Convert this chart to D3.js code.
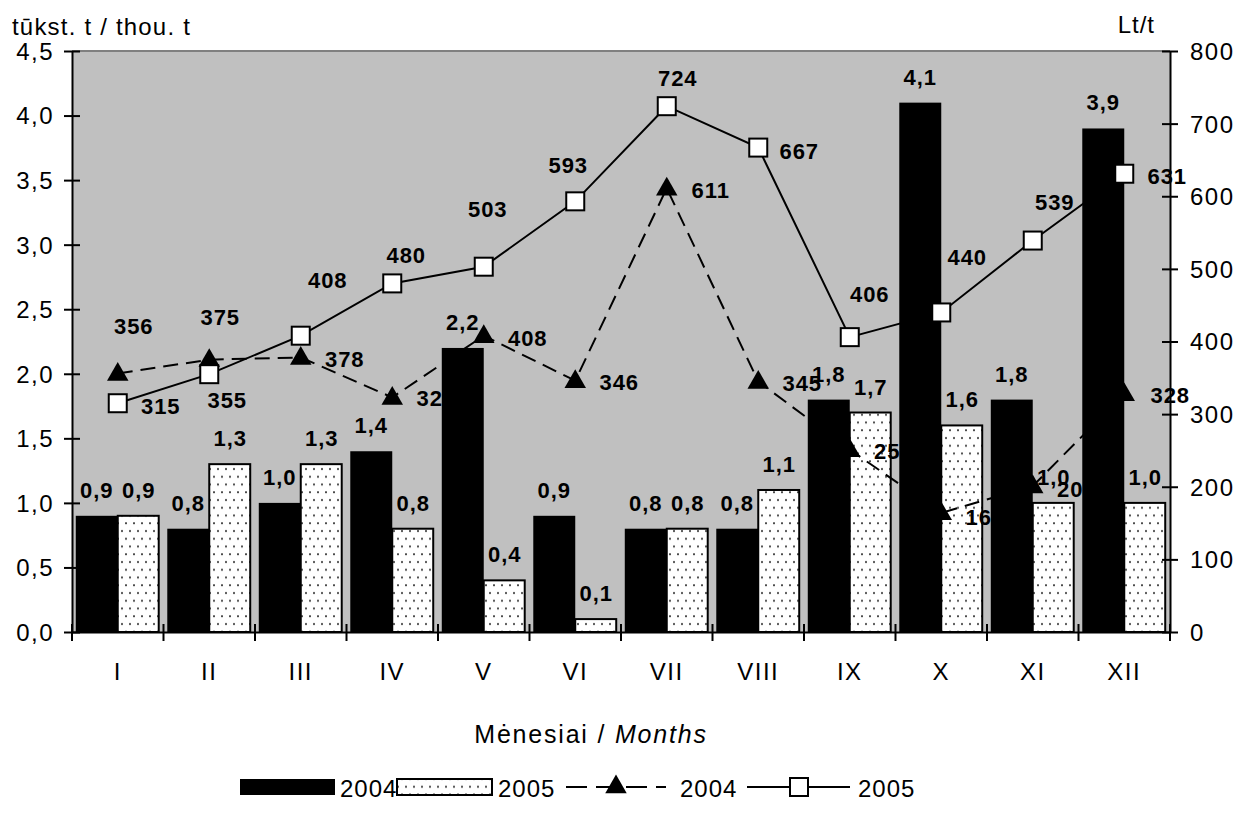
<!DOCTYPE html>
<html><head><meta charset="utf-8">
<script src="https://cdn.jsdelivr.net/npm/d3@7"></script>
<style>
body{margin:0;background:#fff;}
svg text{font-family:"Liberation Sans",Arial,sans-serif;}
</style></head>
<body><svg id="c" width="1236" height="816"></svg>
<script>
// ---- data ----
const months = ["I","II","III","IV","V","VI","VII","VIII","IX","X","XI","XII"];
const qty2004 = [0.9,0.8,1.0,1.4,2.2,0.9,0.8,0.8,1.8,4.1,1.8,3.9];
const qty2005 = [0.9,1.3,1.3,0.8,0.4,0.1,0.8,1.1,1.7,1.6,1.0,1.0];
const price2004 = [356,375,378,323,408,346,611,345,251,164,201,328];
const price2005 = [315,355,408,480,503,593,724,667,406,440,539,631];
const leftTicks = [0,0.5,1,1.5,2,2.5,3,3.5,4,4.5];
const rightTicks = [0,100,200,300,400,500,600,700,800];
// label nudges (label centre relative to marker), layout only
const triLabelNudge = [[16,-47],[11,-43],[44,2],[44,1],[44,2],[44,1],[44,2],[44,2],[44,1],[44,4],[44,3],[46,1]];
const sqLabelNudge = [[43,3],[18,26],[27,-56],[14,-28],[4,-58],[-7,-36],[11,-28],[41,3],[20,-43],[26,-55],[22,-39],[43,2]];

const svg = d3.select("#c");
const L=72, R=1170, T=51, B=632;
const FS = 24;
const fmt1 = d => d.toFixed(1).replace(".",",");

const x = d3.scaleBand().domain(months).range([L,R]).padding(0);
const xs = d3.scaleBand().domain(["2004","2005"]).range([0,x.bandwidth()]).paddingInner(0).paddingOuter(0.09);
const yL = d3.scaleLinear().domain([0,4.5]).range([B,T]);
const yR = d3.scaleLinear().domain([0,800]).range([B,T]);
const cx = m => x(m)+x.bandwidth()/2;

// pattern
const defs = svg.append("defs");
const pat = defs.append("pattern").attr("id","dots").attr("patternUnits","userSpaceOnUse")
  .attr("width",8).attr("height",15.5);
pat.append("rect").attr("width",8).attr("height",15.5).attr("fill","#fff");
pat.append("circle").attr("cx",2).attr("cy",4).attr("r",1).attr("fill","#333");
pat.append("circle").attr("cx",6).attr("cy",11.75).attr("r",1).attr("fill","#333");

// plot background
svg.append("rect").attr("x",L).attr("y",T).attr("width",R-L).attr("height",B-T).attr("fill","#c0c0c0");
svg.append("line").attr("x1",L).attr("x2",R).attr("y1",T).attr("y2",T).attr("stroke","#808080").attr("stroke-width",2);

// bars
const bw = xs.bandwidth();
svg.append("g").selectAll("rect").data(qty2004).join("rect")
  .attr("x",(d,i)=>x(months[i])+xs("2004")).attr("y",d=>yL(d))
  .attr("width",bw).attr("height",d=>B-yL(d)).attr("fill","#000");
svg.append("g").selectAll("rect").data(qty2005).join("rect")
  .attr("x",(d,i)=>x(months[i])+xs("2005")).attr("y",d=>yL(d))
  .attr("width",bw-1).attr("height",d=>B-yL(d)).attr("fill","url(#dots)")
  .attr("stroke","#000").attr("stroke-width",2);

// axes
const gl = svg.append("g").attr("transform",`translate(${L},0)`)
  .call(d3.axisLeft(yL).tickValues(leftTicks).tickFormat(fmt1).tickSize(8).tickPadding(10).tickSizeOuter(0));
gl.selectAll(".tick line").attr("x1",8).attr("x2",-8);
const gr = svg.append("g").attr("transform",`translate(${R},0)`)
  .call(d3.axisRight(yR).tickValues(rightTicks).tickSize(8).tickPadding(12).tickSizeOuter(0));
gr.selectAll(".tick line").attr("x1",-8).attr("x2",8);
const gb = svg.append("g").attr("transform",`translate(0,${B})`)
  .call(d3.axisBottom(x).tickSize(0).tickPadding(31).tickSizeOuter(0));
gb.selectAll(".tick line").remove();
[gl,gr,gb].forEach(g=>{
  g.select(".domain").attr("stroke","#000").attr("stroke-width",2);
  g.selectAll(".tick line").attr("stroke","#000").attr("stroke-width",2);
  g.selectAll("text").attr("font-size",FS).attr("fill","#000").attr("letter-spacing",1.5)
   .attr("font-family",'"Liberation Sans",Arial,sans-serif');
});
gl.selectAll("text").attr("dy","0.35em");
gr.selectAll("text").attr("dy","0.35em");
// category boundary ticks
const edges = months.map(m=>x(m)).concat([x.range()[1]]);
svg.append("g").selectAll("line").data(edges).join("line")
  .attr("x1",d=>d).attr("x2",d=>d).attr("y1",B-8).attr("y2",B+9)
  .attr("stroke","#000").attr("stroke-width",2);

// lines
const lineGen = d3.line().x((d,i)=>cx(months[i])).y(d=>yR(d));
svg.append("path").datum(price2004).attr("d",lineGen).attr("fill","none")
  .attr("stroke","#000").attr("stroke-width",2).attr("stroke-dasharray","15,8");
svg.append("path").datum(price2005).attr("d",lineGen).attr("fill","none")
  .attr("stroke","#000").attr("stroke-width",2);
const tri = d3.symbol().type(d3.symbolTriangle).size(200);
svg.append("g").selectAll("path").data(price2004).join("path")
  .attr("d",tri).attr("transform",(d,i)=>`translate(${cx(months[i])},${yR(d)+1})`).attr("fill","#000");
svg.append("g").selectAll("rect").data(price2005).join("rect")
  .attr("x",(d,i)=>cx(months[i])-9).attr("y",d=>yR(d)-9).attr("width",18).attr("height",18)
  .attr("fill","#fff").attr("stroke","#000").attr("stroke-width",2);

// data labels
function lab(g,txt,xx,yy){
  g.append("text").attr("x",xx).attr("y",yy+8).attr("text-anchor","middle")
   .attr("font-size",22).attr("font-weight","bold").attr("letter-spacing",1).attr("fill","#000").text(txt);
}
const gLab = svg.append("g");
qty2004.forEach((d,i)=>lab(gLab,fmt1(d),x(months[i])+xs("2004")+bw/2,yL(d)-26));
qty2005.forEach((d,i)=>lab(gLab,fmt1(d),x(months[i])+xs("2005")+bw/2,yL(d)-26));
price2004.forEach((d,i)=>lab(gLab,d,cx(months[i])+triLabelNudge[i][0],yR(d)+triLabelNudge[i][1]));
price2005.forEach((d,i)=>lab(gLab,d,cx(months[i])+sqLabelNudge[i][0],yR(d)+sqLabelNudge[i][1]));

// titles
const t = (xx,yy,s,anchor,ls)=>svg.append("text").attr("x",xx).attr("y",yy).attr("font-size",FS)
  .attr("letter-spacing",ls==null?1:ls).attr("text-anchor",anchor||"start").attr("fill","#000").text(s);
t(12,35,"tūkst. t / thou. t",null,1.2);
t(1155,33,"Lt/t","end");
const xt = svg.append("text").attr("x",591).attr("y",743).attr("font-size",25).attr("letter-spacing",1.8)
  .attr("text-anchor","middle").attr("fill","#000");
xt.append("tspan").text("Mėnesiai / ");
xt.append("tspan").attr("font-style","italic").text("Months");

// legend
const lg = svg.append("g");
const ly = 787;
lg.append("rect").attr("x",240).attr("y",ly-8).attr("width",95).attr("height",16).attr("fill","#000");
t(340,ly+10,"2004");
lg.append("rect").attr("x",397).attr("y",ly-8).attr("width",95).attr("height",16).attr("fill","url(#dots)")
  .attr("stroke","#000").attr("stroke-width",2);
t(498,ly+10,"2005");
lg.append("line").attr("x1",566).attr("x2",666).attr("y1",ly).attr("y2",ly).attr("stroke","#000")
  .attr("stroke-width",2).attr("stroke-dasharray","21,9");
lg.append("path").attr("d",tri).attr("transform",`translate(616,${ly})`).attr("fill","#000");
t(680,ly+10,"2004");
lg.append("line").attr("x1",747).attr("x2",850).attr("y1",ly).attr("y2",ly).attr("stroke","#000").attr("stroke-width",2);
lg.append("rect").attr("x",790).attr("y",ly-9).attr("width",18).attr("height",18).attr("fill","#fff")
  .attr("stroke","#000").attr("stroke-width",2);
t(858,ly+10,"2005");
</script></body></html>
